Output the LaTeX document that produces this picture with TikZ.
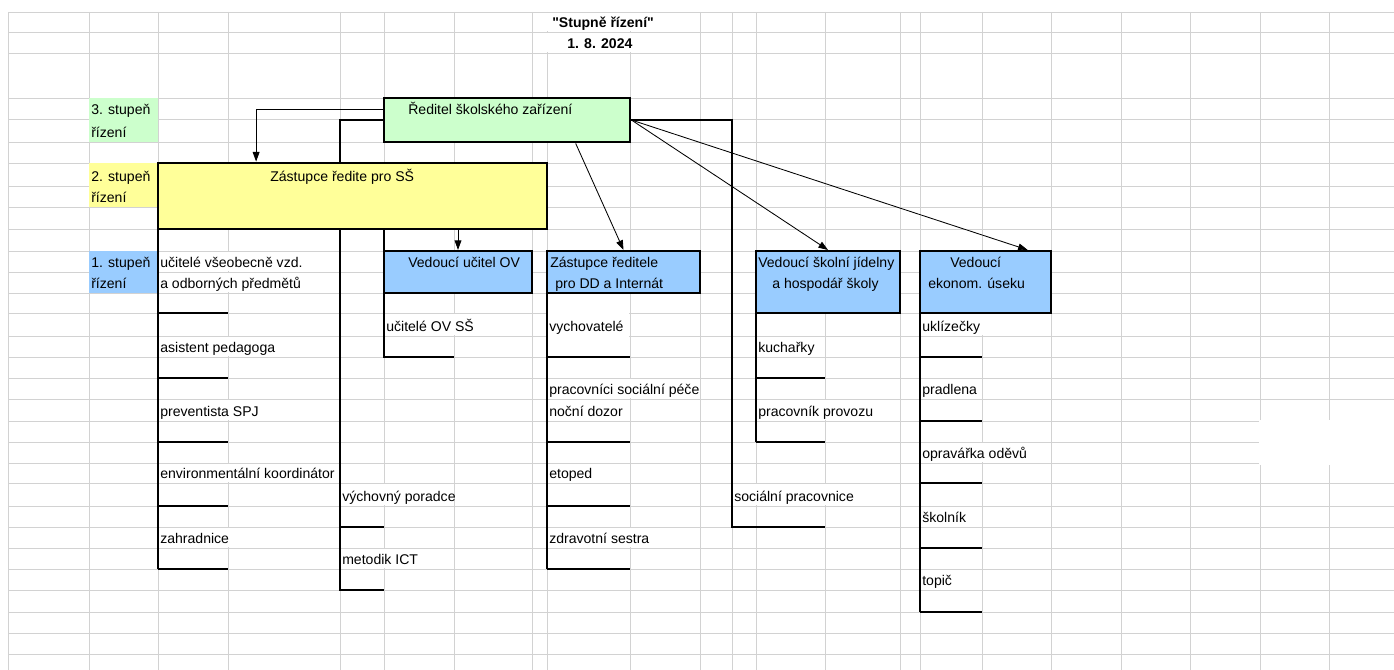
\documentclass[tikz,border=0pt]{standalone}
\usepackage{fontspec}
\setmainfont{Liberation Sans}[Ligatures=TeXOff]
\usetikzlibrary{positioning,calc,fit,arrows.meta}
\definecolor{gridgray}{RGB}{210,210,210}
\definecolor{lvlgreen}{RGB}{204,255,204}
\definecolor{lvlyellow}{RGB}{255,255,153}
\definecolor{lvlblue}{RGB}{153,204,255}

\begin{document}
\begin{tikzpicture}[x=0.025cm,y=-0.025cm,
    gridline/.style={gridgray,line width=0.7pt},
    brd/.style={line width=1.4pt},
    box/.style={draw,line width=1.5pt,inner sep=0pt},
    arr/.style={line width=0.6pt,-{Triangle[length=2.4mm,width=1.7mm]}},
    txt/.style={anchor=base west,inner sep=0pt,font=\fontsize{10}{12}\selectfont},
    ttl/.style={txt,font=\fontsize{10}{12}\selectfont\bfseries}]
\useasboundingbox (0,0) rectangle (1394,670);
% sheet grid
\foreach \x in {8,89,158,228,340,384,454,532,547,630,700,732,756,825,900,920,982,1051,1121,1190,1260,1329}
  \draw[gridline] (\x,12) -- (\x,670);
\foreach \y in {12,32,53,98,119,142,163,186,207,229,251,272,293,313,336,357,378,399,421,442,463,483,506,527,548,569,590,612,633,654}
  \draw[gridline] (8,\y) -- (1394,\y);
% cells where the text runs over the grid
\foreach \xa/\ya/\xb/\yb in {532/12/700/32,532/32/700/53,
    158/251/340/272,158/272/340/293,158/336/340/357,158/399/340/421,158/463/340/483,158/527/340/548,
    340/483/454/506,340/548/454/569,384/313/532/336,
    547/293/630/357,547/378/700/399,547/527/700/548,
    732/483/900/506,756/399/900/421,920/313/1051/336,920/442/1051/463}
  \fill[white] (\xa+0.6,\ya+0.6) rectangle (\xb-0.6,\yb-0.6);
\fill[white] (1259.4,420.4) rectangle (1395,464.6);

% levels
\node[fit={(89,98) (158,142)},inner sep=0pt,fill=lvlgreen] (lvl3) {};
\node[fit={(89,163) (158,207)},inner sep=0pt,fill=lvlyellow] (lvl2) {};
\node[fit={(89,251) (158,293)},inner sep=0pt,fill=lvlblue] (lvl1) {};
\node[txt] (lvl3a) at (91,114.5) {3. stupeň};
\node[txt] (lvl3b) at (91,137.5) {řízení};
\node[txt] (lvl2a) at (91,181.5) {2. stupeň};
\node[txt] (lvl2b) at (91,202.5) {řízení};
\node[txt] (lvl1a) at (91,267.5) {1. stupeň};
\node[txt] (lvl1b) at (91,288.5) {řízení};

% title
\node[ttl] (title) at (552,27.5) {"Stupně řízení"};
\node[ttl] (date) at (567,48.5) {1. 8. 2024};

% borders of the columns
\draw[brd] (158,229) -- (158,569);
\foreach \y in {313,378,442,506,569}
  \draw[brd] (158,\y) -- (228,\y);
\draw[brd] (384,120) -| (340,590) -- (384,590);
\draw[brd] (340,527) -- (384,527);
\draw[brd] (384,229) -- (384,357) -- (454,357);
\draw[brd] (547,293) -- (547,569);
\foreach \y in {357,442,506,569}
  \draw[brd] (547,\y) -- (630,\y);
\draw[brd] (630,120) -| (732,527) -- (825,527);
\draw[brd] (756,313) -- (756,442);
\foreach \y in {378,442}
  \draw[brd] (756,\y) -- (825,\y);
\draw[brd] (920,313) -- (920,612);
\foreach \y in {357,421,483,548,612}
  \draw[brd] (920,\y) -- (982,\y);

% boxes
\node[box,line width=2pt,fill=lvlgreen,fit={(384,98) (630,142)}] (reditel) {};
\node[box,line width=2pt,fill=lvlyellow,fit={(158,163) (547,229)}] (zastss) {};
\node[box,fill=lvlblue,fit={(384,251) (532,293)}] (vedov) {};
\node[box,fill=lvlblue,fit={(547,251) (700,293)}] (zastdd) {};
\node[box,fill=lvlblue,fit={(756,251) (900,313)}] (vedjid) {};
\node[box,fill=lvlblue,fit={(920,251) (1051,313)}] (vedeko) {};

\node[txt] (t1) at (408,114.5) {Ředitel školského zařízení};
\node[txt] (t2) at (270,181.5) {Zástupce ředite pro SŠ};
\node[txt] (t3) at (408,267.5) {Vedoucí učitel OV};
\node[txt] (t4) at (550,267.5) {Zástupce ředitele};
\node[txt] (t5) at (555,288.5) {pro DD a Internát};
\node[txt] (t6) at (758,267.5) {Vedoucí školní jídelny};
\node[txt] (t7) at (772,288.5) {a hospodář školy};
\node[txt] (t8) at (950,267.5) {Vedoucí};
\node[txt] (t9) at (928,288.5) {ekonom. úseku};

% arrows
\draw[arr] ($(reditel.north west)!0.27!(reditel.south west)$) -| ($(zastss.north west)!0.254!(zastss.north east)$);
\draw[arr] (vedov.north |- zastss.south) -- (vedov.north);
\draw[arr] ($(reditel.south west)!0.776!(reditel.south east)$) -- (zastdd.north);
\draw[arr] (reditel.east) -- (vedjid.north);
\draw[arr] (reditel.east) -- ($(vedeko.north west)!0.817!(vedeko.north east)$);

% staff
\foreach \x/\y/\t [count=\i] in {160/267.5/učitelé všeobecně vzd., 160/288.5/a odborných předmětů,
    160/352.5/asistent pedagoga, 160/416.5/preventista SPJ, 160/478.5/environmentální koordinátor,
    160/543.5/zahradnice, 342/501.5/výchovný poradce, 342/564.5/metodik ICT,
    386/331.5/učitelé OV SŠ, 549/331.5/vychovatelé, 549/394.5/pracovníci sociální péče,
    549/416.5/noční dozor, 549/478.5/etoped, 549/543.5/zdravotní sestra,
    734/501.5/sociální pracovnice, 758/352.5/kuchařky, 758/416.5/pracovník provozu,
    922/331.5/uklízečky, 922/394.5/pradlena, 922/458.5/opravářka oděvů,
    922/522.5/školník, 922/585.5/topič}
  \node[txt] (s\i) at (\x,\y) {\t};
\end{tikzpicture}
\end{document}
